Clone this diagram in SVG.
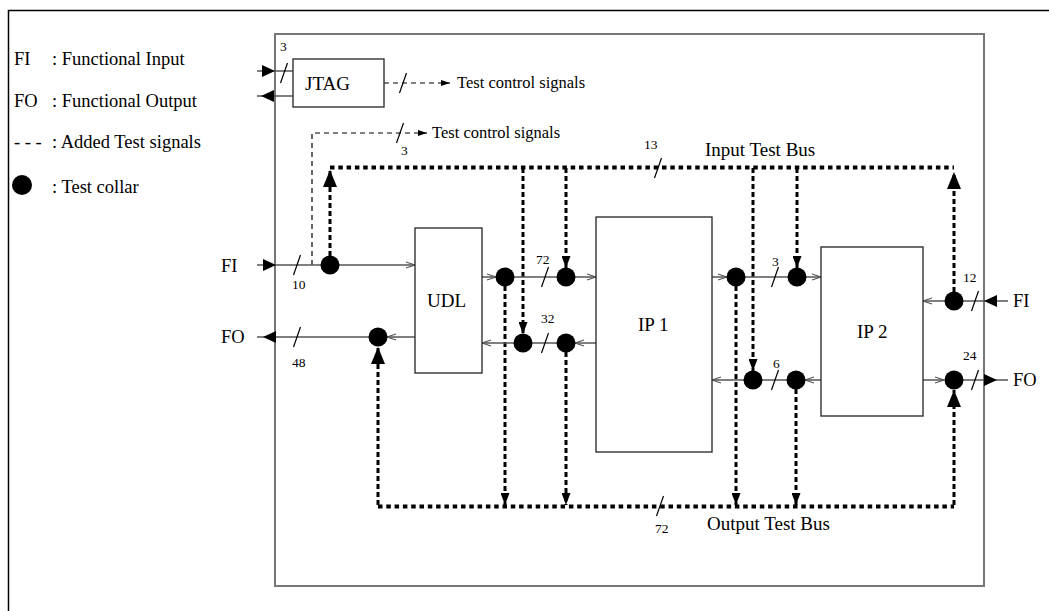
<svg xmlns="http://www.w3.org/2000/svg" xmlns:xlink="http://www.w3.org/1999/xlink" width="1049" height="611" viewBox="0 0 1049 611">
<style>
text{font-family:"Liberation Serif","Times New Roman",serif;fill:#000}
.lg{font-size:18.5px}
.lb{font-size:19px}
.sm{font-size:13.5px}
.tc{font-size:16.5px}
.frame{fill:none;stroke:#777;stroke-width:2}
.box{fill:#fff;stroke:#222;stroke-width:1.3}
.w{fill:none;stroke:#555;stroke-width:1.5}
.bus{fill:none;stroke:#000;stroke-width:4;stroke-dasharray:4.5 3.8}
.tv{fill:none;stroke:#000;stroke-width:3;stroke-dasharray:5 3}
.ctrl{fill:none;stroke:#000;stroke-width:1.2;stroke-dasharray:5 4}
.sl{fill:none;stroke:#000;stroke-width:1.2}
.col{fill:#000}
</style>
<defs>
<marker id="fa" markerUnits="userSpaceOnUse" markerWidth="14" markerHeight="12" refX="13" refY="6" orient="auto"><path d="M0,0 L13,6 L0,12 z" style="fill:#000;stroke:none"/></marker>
<marker id="ta" markerUnits="userSpaceOnUse" markerWidth="18" markerHeight="14" refX="17" refY="7" orient="auto"><path d="M0,0 L17,7 L0,14 z" style="fill:#000;stroke:none"/></marker>
<marker id="na" markerUnits="userSpaceOnUse" markerWidth="13" markerHeight="9" refX="12" refY="4.5" orient="auto"><path d="M0,0 L12,4.5 L0,9 z" style="fill:#000;stroke:none"/></marker>
<marker id="sa" markerUnits="userSpaceOnUse" markerWidth="10" markerHeight="7" refX="9" refY="3.5" orient="auto"><path d="M0,0.5 L9,3.5 L0,6.5 z" style="fill:#000;stroke:none"/></marker>
<marker id="oa" markerUnits="userSpaceOnUse" markerWidth="11" markerHeight="8" refX="10" refY="4" orient="auto"><path d="M1,1 L10,4 L1,7" style="fill:none;stroke:#555;stroke-width:1.2;stroke-dasharray:none"/></marker>
<path id="slash" class="sl" d="M-3.5,10 L3.5,-10"/>
</defs>

<path d="M8.5,611 V10.5 H1049" fill="none" stroke="#000" stroke-width="1.5"/>

<g id="legend">
<text class="lg" x="14" y="65">FI</text><text class="lg" x="52" y="65">: Functional Input</text>
<text class="lg" x="14" y="107">FO</text><text class="lg" x="52" y="107">: Functional Output</text>
<text class="lg" x="14" y="148">- - -</text><text class="lg" x="52" y="148">: Added Test signals</text>
<circle class="col" cx="22" cy="185" r="10"/><text class="lg" x="52" y="193">: Test collar</text>
</g>

<g id="chip"><rect class="frame" x="275" y="34" width="709" height="552"/></g>

<g id="connectors">
<!-- JTAG -->
<line class="w" x1="257" y1="71" x2="275" y2="71" marker-end="url(#fa)"/>
<line class="w" x1="275" y1="71" x2="293" y2="71"/>
<line class="w" x1="293" y1="96" x2="261" y2="96" marker-end="url(#fa)"/>
<line class="w" x1="261" y1="96" x2="257" y2="96"/>
<use href="#slash" x="284" y="73"/>
<text class="sm" x="280" y="51">3</text>
<line class="ctrl" x1="384" y1="83" x2="450" y2="83" marker-end="url(#sa)"/>
<use href="#slash" x="403" y="83"/>
<text class="tc" x="457" y="88">Test control signals</text>
<path class="ctrl" d="M312,265 V133 H427" marker-end="url(#sa)"/>
<use href="#slash" x="400" y="133"/>
<text class="sm" x="401" y="155">3</text>
<text class="tc" x="432" y="138">Test control signals</text>

<!-- Input test bus -->
<path class="bus" d="M330,167.5 H954"/>
<use href="#slash" x="658" y="168"/>
<text class="sm" x="644" y="149">13</text>
<text class="lb" x="705" y="156">Input Test Bus</text>
<line class="tv" x1="330" y1="256" x2="330" y2="170" marker-end="url(#ta)"/>
<line class="tv" x1="523" y1="168" x2="523" y2="334" marker-end="url(#na)"/>
<line class="tv" x1="566" y1="168" x2="566" y2="268" marker-end="url(#na)"/>
<line class="tv" x1="753" y1="168" x2="753" y2="371" marker-end="url(#na)"/>
<line class="tv" x1="797" y1="168" x2="797" y2="268" marker-end="url(#na)"/>
<line class="tv" x1="954" y1="292" x2="954" y2="172" marker-end="url(#ta)"/>

<!-- Output test bus -->
<path class="bus" d="M378,506.5 H954"/>
<use href="#slash" x="660" y="506"/>
<text class="sm" x="655" y="533">72</text>
<text class="lb" x="707" y="530">Output Test Bus</text>
<line class="tv" x1="378" y1="505" x2="378" y2="347" marker-end="url(#ta)"/>
<line class="tv" x1="505" y1="286" x2="505" y2="505" marker-end="url(#na)"/>
<line class="tv" x1="566" y1="352" x2="566" y2="505" marker-end="url(#na)"/>
<line class="tv" x1="736" y1="286" x2="736" y2="505" marker-end="url(#na)"/>
<line class="tv" x1="796" y1="389" x2="796" y2="505" marker-end="url(#na)"/>
<line class="tv" x1="954" y1="505" x2="954" y2="390" marker-end="url(#ta)"/>

<!-- Functional wires -->
<line class="w" x1="257" y1="265" x2="276" y2="265" marker-end="url(#fa)"/>
<line class="w" x1="276" y1="265" x2="415" y2="265" marker-end="url(#oa)"/>
<use href="#slash" x="297" y="265"/>
<text class="sm" x="292" y="289">10</text>

<line class="w" x1="415" y1="337" x2="387" y2="337" marker-end="url(#oa)"/>
<line class="w" x1="378" y1="337" x2="263" y2="337" marker-end="url(#fa)"/>
<line class="w" x1="263" y1="337" x2="257" y2="337"/>
<use href="#slash" x="297" y="337"/>
<text class="sm" x="292" y="367">48</text>

<line class="w" x1="482" y1="277" x2="496" y2="277" marker-end="url(#oa)"/>
<line class="w" x1="505" y1="277" x2="596" y2="277" marker-end="url(#oa)"/>
<use href="#slash" x="545" y="277"/>
<text class="sm" x="536" y="264">72</text>

<line class="w" x1="596" y1="343" x2="575" y2="343" marker-end="url(#oa)"/>
<line class="w" x1="566" y1="343" x2="482" y2="343" marker-end="url(#oa)"/>
<use href="#slash" x="545" y="343"/>
<text class="sm" x="541" y="323">32</text>

<line class="w" x1="712" y1="277" x2="727" y2="277" marker-end="url(#oa)"/>
<line class="w" x1="736" y1="277" x2="821" y2="277" marker-end="url(#oa)"/>
<use href="#slash" x="775" y="277"/>
<text class="sm" x="772" y="266">3</text>

<line class="w" x1="821" y1="380" x2="805" y2="380" marker-end="url(#oa)"/>
<line class="w" x1="796" y1="380" x2="712" y2="380" marker-end="url(#oa)"/>
<use href="#slash" x="775" y="380"/>
<text class="sm" x="773" y="368">6</text>

<line class="w" x1="1008" y1="301" x2="984" y2="301" marker-end="url(#fa)"/>
<line class="w" x1="984" y1="301" x2="923" y2="301" marker-end="url(#oa)"/>
<use href="#slash" x="975" y="301"/>
<text class="sm" x="963" y="282">12</text>

<line class="w" x1="923" y1="380" x2="944" y2="380" marker-end="url(#oa)"/>
<line class="w" x1="953" y1="380" x2="997" y2="380" marker-end="url(#fa)"/>
<line class="w" x1="997" y1="380" x2="1008" y2="380"/>
<use href="#slash" x="975" y="380"/>
<text class="sm" x="963" y="360">24</text>
</g>

<text class="lg" x="221" y="272">FI</text>
<text class="lg" x="221" y="343">FO</text>
<text class="lg" x="1013" y="307">FI</text>
<text class="lg" x="1013" y="386">FO</text>

<g id="collars">
<circle id="c1" class="col" cx="330" cy="265" r="9.5"/>
<circle id="c2" class="col" cx="378" cy="337" r="9.5"/>
<circle id="c3" class="col" cx="505" cy="277" r="9.5"/>
<circle id="c4" class="col" cx="566" cy="277" r="9.5"/>
<circle id="c5" class="col" cx="523" cy="343" r="9.5"/>
<circle id="c6" class="col" cx="566" cy="343" r="9.5"/>
<circle id="c7" class="col" cx="736" cy="277" r="9.5"/>
<circle id="c8" class="col" cx="797" cy="277" r="9.5"/>
<circle id="c9" class="col" cx="753" cy="380" r="9.5"/>
<circle id="c10" class="col" cx="796" cy="380" r="9.5"/>
<circle id="c11" class="col" cx="954" cy="301" r="9.5"/>
<circle id="c12" class="col" cx="954" cy="380" r="9.5"/>
</g>

<g id="jtag"><rect class="box" x="293" y="59" width="91" height="48"/><text class="lb" x="305" y="90">JTAG</text></g>
<g id="udl"><rect class="box" x="415" y="228" width="67" height="145"/><text class="lb" x="427" y="307">UDL</text></g>
<g id="ip1"><rect class="box" x="596" y="217" width="116" height="235"/><text class="lb" x="638" y="331">IP 1</text></g>
<g id="ip2"><rect class="box" x="821" y="247" width="102" height="169"/><text class="lb" x="857" y="338">IP 2</text></g>
</svg>
